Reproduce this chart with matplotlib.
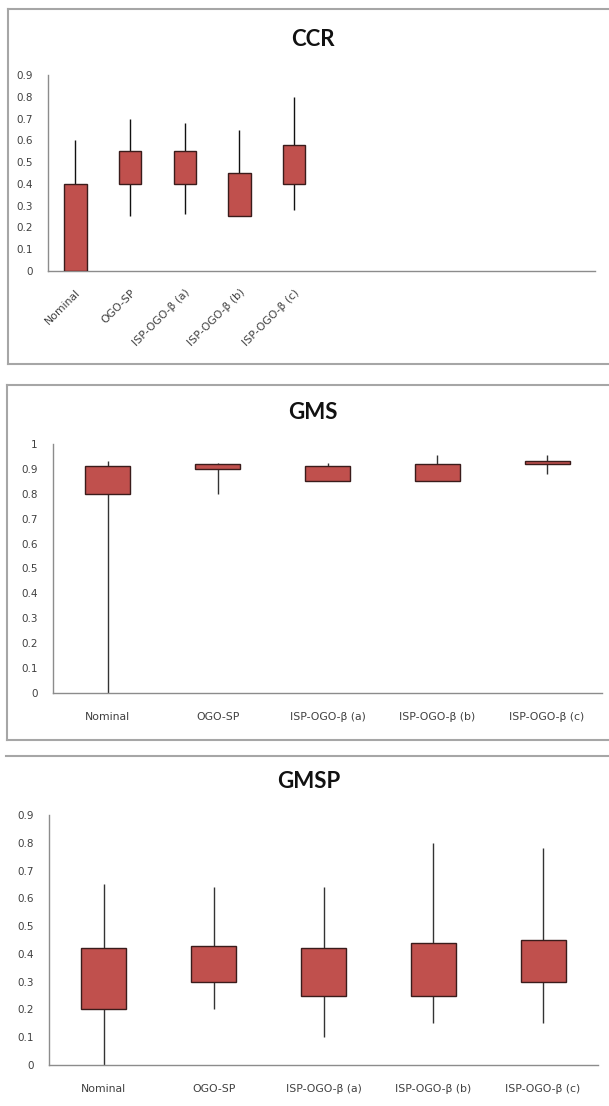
import matplotlib
matplotlib.use('Agg')
import matplotlib.pyplot as plt
from matplotlib.lines import Line2D

plt.rcParams['font.family'] = ['DejaVu Sans']

categories = ['Nominal', 'OGO-SP', 'ISP-OGO-β (a)', 'ISP-OGO-β (b)', 'ISP-OGO-β (c)']

# CCR: box low/high, whisker low/high
ccr_box_lo = [0.0, 0.40, 0.40, 0.25, 0.40]
ccr_box_hi = [0.40, 0.55, 0.55, 0.45, 0.58]
ccr_min = [0.0, 0.25, 0.26, 0.25, 0.28]
ccr_max = [0.60, 0.70, 0.68, 0.65, 0.80]

# GMS
gms_box_lo = [0.80, 0.90, 0.85, 0.85, 0.918]
gms_box_hi = [0.91, 0.92, 0.91, 0.918, 0.933]
gms_min = [0.0, 0.80, 0.85, 0.85, 0.88]
gms_max = [0.93, 0.925, 0.925, 0.955, 0.955]

# GMSP
gmsp_box_lo = [0.20, 0.30, 0.25, 0.25, 0.30]
gmsp_box_hi = [0.42, 0.43, 0.42, 0.44, 0.45]
gmsp_min = [0.0, 0.20, 0.10, 0.15, 0.15]
gmsp_max = [0.65, 0.64, 0.64, 0.80, 0.78]

W, H = 609, 1106
fig = plt.figure(figsize=(W / 100, H / 100), dpi=100)


def rect(left, right, top, bottom):
    return [left / W, 1 - bottom / H, (right - left) / W, (bottom - top) / H]


def candle(ax, lo, hi, wmin, wmax, n_slots, ymax, yticks, whisker_color):
    x = list(range(len(lo)))
    ax.vlines(x, wmin, wmax, color=whisker_color, lw=1.0, zorder=2)
    heights = [h - l for l, h in zip(lo, hi)]
    ax.bar(x, heights, bottom=lo, width=0.41, color='#C0504D',
           edgecolor='#3a1c1b', lw=1.0, zorder=3)
    ax.set_xlim(-0.5, n_slots - 0.5)
    ax.set_ylim(0, ymax)
    ax.set_yticks(yticks)
    ax.set_yticklabels(['%g' % t for t in yticks])
    for s in ['top', 'right']:
        ax.spines[s].set_visible(False)
    for s in ['left', 'bottom']:
        ax.spines[s].set_color('#8c8c8c')
        ax.spines[s].set_linewidth(1.0)
    ax.tick_params(length=0, labelsize=7.5, colors='#404040')
    ax.tick_params(axis='y', pad=11)


def title(x, y, s):
    fig.text(x / W, 1 - y / H, s, ha='center', va='center', family=['Lato', 'DejaVu Sans'],
             fontsize=16, fontweight='bold', color='#111111')


# panel frames (Excel chart areas)
frame = '#a6a6a6'
fig.add_artist(Line2D([8 / W, 1], [1 - 9 / H, 1 - 9 / H], color=frame, lw=1.5))
fig.add_artist(Line2D([8 / W, 8 / W], [1 - 9 / H, 1 - 364 / H], color=frame, lw=1.5))
fig.add_artist(Line2D([8 / W, 1], [1 - 364 / H, 1 - 364 / H], color=frame, lw=1.5))
fig.add_artist(Line2D([7 / W, 1], [1 - 385 / H, 1 - 385 / H], color=frame, lw=1.5))
fig.add_artist(Line2D([7 / W, 7 / W], [1 - 385 / H, 1 - 740 / H], color=frame, lw=1.5))
fig.add_artist(Line2D([7 / W, 1], [1 - 740 / H, 1 - 740 / H], color=frame, lw=1.5))
fig.add_artist(Line2D([6 / W, 1], [1 - 756 / H, 1 - 756 / H], color=frame, lw=1.5))

# CCR
ax1 = fig.add_axes(rect(48, 595, 75.3, 270.7))
candle(ax1, ccr_box_lo, ccr_box_hi, ccr_min, ccr_max, 10, 0.9,
       [0, 0.1, 0.2, 0.3, 0.4, 0.5, 0.6, 0.7, 0.8, 0.9], '#111111')
ax1.set_xticks(range(len(categories)))
ax1.set_xticklabels(categories, rotation=45, ha='right', rotation_mode='anchor')
ax1.tick_params(axis='x', pad=12, labelsize=7.8)
title(313, 39, 'CCR')

# GMS
ax2 = fig.add_axes(rect(53, 602, 444, 693))
candle(ax2, gms_box_lo, gms_box_hi, gms_min, gms_max, 5, 1.0,
       [0, 0.1, 0.2, 0.3, 0.4, 0.5, 0.6, 0.7, 0.8, 0.9, 1], '#333333')
ax2.set_xticks(range(len(categories)))
ax2.set_xticklabels(categories)
ax2.tick_params(axis='x', pad=14, labelsize=7.8)
title(313, 412, 'GMS')

# GMSP
ax3 = fig.add_axes(rect(49, 598, 815, 1065))
candle(ax3, gmsp_box_lo, gmsp_box_hi, gmsp_min, gmsp_max, 5, 0.9,
       [0, 0.1, 0.2, 0.3, 0.4, 0.5, 0.6, 0.7, 0.8, 0.9], '#333333')
ax3.set_xticks(range(len(categories)))
ax3.set_xticklabels(categories)
ax3.tick_params(axis='x', pad=14, labelsize=7.8)
title(309, 782, 'GMSP')

plt.savefig('out.png', dpi=100)
